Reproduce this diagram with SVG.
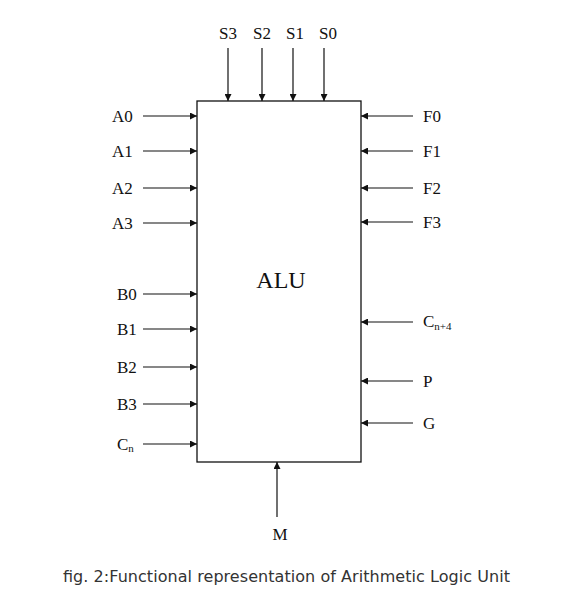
<svg xmlns="http://www.w3.org/2000/svg" width="585" height="604" viewBox="0 0 585 604">
<style>
.lbl{font-family:"Liberation Serif",serif;font-size:17px;fill:#111}
.sub{font-size:11px}
.ln{stroke:#111;stroke-width:1.2;fill:none}
</style>
<defs>
<marker id="ah" viewBox="0 0 10 10" refX="10" refY="5" markerWidth="9" markerHeight="7" markerUnits="userSpaceOnUse" orient="auto">
<path d="M0,0 L10,5 L0,10 z" fill="#111"/>
</marker>
</defs>
<rect width="585" height="604" fill="#fff"/>
<g id="alu">
<rect x="197" y="101" width="164" height="361" fill="#fff" stroke="#111" stroke-width="1.3"/>
<text class="lbl" x="281" y="288" text-anchor="middle" style="font-size:24px">ALU</text>
</g>
<g id="connectors" class="ln" marker-end="url(#ah)">
<line x1="228" y1="48" x2="228" y2="101"/>
<line x1="262" y1="48" x2="262" y2="101"/>
<line x1="293" y1="48" x2="293" y2="101"/>
<line x1="324" y1="48" x2="324" y2="101"/>
<line x1="143" y1="116" x2="197" y2="116"/>
<line x1="143" y1="151" x2="197" y2="151"/>
<line x1="143" y1="188" x2="197" y2="188"/>
<line x1="143" y1="223" x2="197" y2="223"/>
<line x1="143" y1="294" x2="197" y2="294"/>
<line x1="143" y1="329" x2="197" y2="329"/>
<line x1="143" y1="367" x2="197" y2="367"/>
<line x1="143" y1="404" x2="197" y2="404"/>
<line x1="143" y1="444" x2="197" y2="444"/>
<line x1="413" y1="116" x2="361" y2="116"/>
<line x1="413" y1="151" x2="361" y2="151"/>
<line x1="413" y1="188" x2="361" y2="188"/>
<line x1="413" y1="222" x2="361" y2="222"/>
<line x1="413" y1="322" x2="361" y2="322"/>
<line x1="413" y1="381" x2="361" y2="381"/>
<line x1="413" y1="423" x2="361" y2="423"/>
<line x1="277" y1="517" x2="277" y2="462"/>
</g>
<g id="s-labels">
<text class="lbl" x="228" y="39" text-anchor="middle">S3</text>
<text class="lbl" x="262" y="39" text-anchor="middle">S2</text>
<text class="lbl" x="295" y="39" text-anchor="middle">S1</text>
<text class="lbl" x="328" y="39" text-anchor="middle">S0</text>
</g>
<g id="a-labels">
<text class="lbl" x="112" y="122">A0</text>
<text class="lbl" x="112" y="157">A1</text>
<text class="lbl" x="112" y="194">A2</text>
<text class="lbl" x="112" y="229">A3</text>
</g>
<g id="b-labels">
<text class="lbl" x="117" y="300">B0</text>
<text class="lbl" x="117" y="335">B1</text>
<text class="lbl" x="117" y="373">B2</text>
<text class="lbl" x="117" y="410">B3</text>
<text class="lbl" x="117" y="450">C<tspan class="sub" dy="2">n</tspan></text>
</g>
<g id="f-labels">
<text class="lbl" x="423" y="122">F0</text>
<text class="lbl" x="423" y="157">F1</text>
<text class="lbl" x="423" y="194">F2</text>
<text class="lbl" x="423" y="228">F3</text>
<text class="lbl" x="423" y="327">C<tspan class="sub" dy="3">n+4</tspan></text>
<text class="lbl" x="423" y="387">P</text>
<text class="lbl" x="423" y="429">G</text>
</g>
<g id="m-label">
<text class="lbl" x="280" y="540" text-anchor="middle">M</text>
</g>
<text x="63" y="582" textLength="447" lengthAdjust="spacing" style="font-family:'DejaVu Sans',sans-serif;font-size:16px;fill:#333">fig. 2:Functional representation of Arithmetic Logic Unit</text>
</svg>
